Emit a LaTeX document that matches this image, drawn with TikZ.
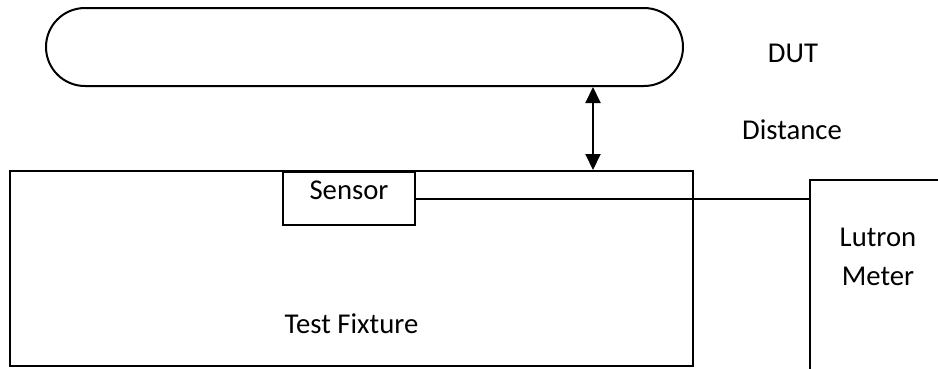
\documentclass[tikz,border=0pt]{standalone}
\usepackage{fontspec}
\setmainfont{Carlito}
\usetikzlibrary{shapes.misc,arrows.meta,positioning}

\begin{document}
\begin{tikzpicture}[x=1pt,y=-1pt]
    \tikzstyle{every node} = [font=\fontsize{28.7}{39}\selectfont]
    \tikzstyle{block} = [draw, rectangle, line width=2pt, inner sep=0pt]
    \tikzstyle{pill} = [draw, rounded rectangle, line width=2pt, inner sep=0pt]
    \clip (0,0) rectangle (938,368);

    % place nodes
    \node[pill,minimum width=637pt,minimum height=78pt](dut) at (364.5,47){};
    \node[block,minimum width=683pt,minimum height=195pt](testFixture) at (351.5,268.5){};
    \node[block,minimum width=132pt,minimum height=53pt,text depth=16pt](sensor) at (349,198.5){Sensor};
    \node[block,anchor=north west,minimum width=200pt,minimum height=250pt](lutronMeter) at (809,179){};

    % texts
    \node[anchor=base](dutText) at (793,62){DUT};
    \node[anchor=base](distanceText) at (792,139){Distance};
    \node[anchor=base](fixtureText) at ([yshift=34pt]testFixture.south){Test Fixture};
    \node[align=center](meterText) at (878,257){Lutron\\Meter};

    % Connections
    \coordinate (gap) at (593,0);
    \draw[{Triangle[width=15pt,length=16pt]}-{Triangle[width=15pt,length=16pt]},line width=2pt]
    (gap |- dut.south)--(gap |- testFixture.north);
    \draw[line width=2pt]
    (sensor.east)--(sensor.east -| lutronMeter.west);

\end{tikzpicture}
\end{document}
